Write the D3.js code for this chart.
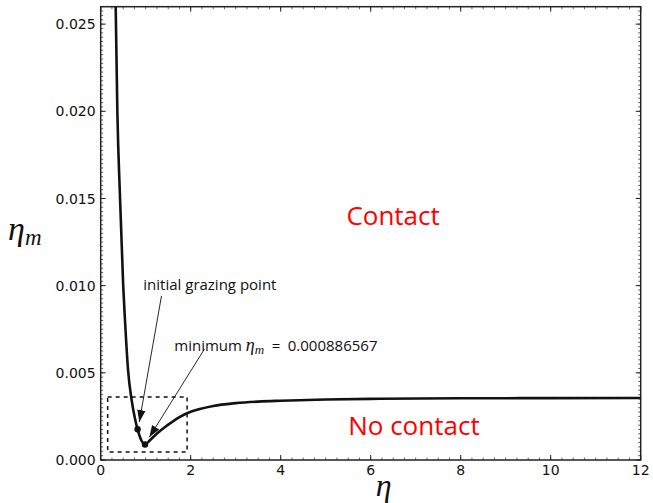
<!DOCTYPE html>
<html>
<head>
<meta charset="utf-8">
<script src="https://cdn.jsdelivr.net/npm/d3@7"></script>
<style>
  body { margin: 0; background: #fff; }
  svg text { fill: #111; }
</style>
</head>
<body>
<div id="chart"></div>
<script>
// curve eta_m(eta)
var etaValues  = [0.333, 0.37, 0.43, 0.50, 0.54, 0.61, 0.69, 0.76, 0.82, 0.90, 0.985, 1.10, 1.25, 1.47, 1.76, 2.0, 2.2, 2.5, 3.0, 3.5, 4.0, 5.0, 6.2, 8.0, 10.0, 12.0];
var etaMValues = [0.0260, 0.0200, 0.0150, 0.0100, 0.0080, 0.0051, 0.0034, 0.0024, 0.00176, 0.00115, 0.000887, 0.00115, 0.00152, 0.00197, 0.00248, 0.00277, 0.00292, 0.00310, 0.00326, 0.00335, 0.00340, 0.00347, 0.00351, 0.00354, 0.00355, 0.00356];

var xTicks = [0, 2, 4, 6, 8, 10, 12];
var yTicks = [0.000, 0.005, 0.010, 0.015, 0.020, 0.025];

var grazingPoint = [0.82, 0.00176];
var minimumPoint = [0.985, 0.000886567];

var width = 653, height = 503;
var margin = {left: 100.7, right: 12.3, top: 6.7, bottom: 43};
var innerW = width - margin.left - margin.right;
var innerH = height - margin.top - margin.bottom;

var x = d3.scaleLinear().domain([0, 12]).range([0, innerW]);
var y = d3.scaleLinear().domain([0, 0.026]).range([innerH, 0]);

var svg = d3.select("#chart").append("svg")
    .attr("width", width)
    .attr("height", height);

var defs = svg.append("defs");
defs.append("marker")
    .attr("id", "head")
    .attr("viewBox", "0 0 10 10")
    .attr("refX", 10).attr("refY", 5)
    .attr("markerWidth", 12).attr("markerHeight", 12)
    .attr("markerUnits", "userSpaceOnUse")
    .attr("orient", "auto")
    .append("path")
    .attr("d", "M0,1.5 L10,5 L0,8.5 Z")
    .attr("fill", "#111");

var g = svg.append("g")
    .attr("transform", "translate(" + margin.left + "," + margin.top + ")");

// minor ticks (inward) on all four sides
var xMinor = d3.range(0, 12.0001, 0.25);
var yMinor = d3.range(0, 0.02601, 0.00025);

g.selectAll(".xminor").data(xMinor).enter().append("g").each(function(d) {
    var s = d3.select(this);
    s.append("line").attr("x1", x(d)).attr("x2", x(d)).attr("y1", innerH).attr("y2", innerH - 2.5);
    s.append("line").attr("x1", x(d)).attr("x2", x(d)).attr("y1", 0).attr("y2", 2.5);
}).selectAll("line").attr("stroke", "#444").attr("stroke-width", 0.8);

g.selectAll(".yminor").data(yMinor).enter().append("g").each(function(d) {
    var s = d3.select(this);
    s.append("line").attr("x1", 0).attr("x2", 2.5).attr("y1", y(d)).attr("y2", y(d));
    s.append("line").attr("x1", innerW).attr("x2", innerW - 2.5).attr("y1", y(d)).attr("y2", y(d));
}).selectAll("line").attr("stroke", "#444").attr("stroke-width", 0.8);

// major ticks
g.selectAll(".xmajor").data(xTicks).enter().append("g").each(function(d) {
    var s = d3.select(this);
    s.append("line").attr("x1", x(d)).attr("x2", x(d)).attr("y1", innerH).attr("y2", innerH - 5);
    s.append("line").attr("x1", x(d)).attr("x2", x(d)).attr("y1", 0).attr("y2", 5);
}).selectAll("line").attr("stroke", "#222").attr("stroke-width", 1);

g.selectAll(".ymajor").data(yTicks).enter().append("g").each(function(d) {
    var s = d3.select(this);
    s.append("line").attr("x1", 0).attr("x2", 5).attr("y1", y(d)).attr("y2", y(d));
    s.append("line").attr("x1", innerW).attr("x2", innerW - 5).attr("y1", y(d)).attr("y2", y(d));
}).selectAll("line").attr("stroke", "#222").attr("stroke-width", 1);

// tick labels
g.selectAll(".xlab").data(xTicks).enter().append("text")
    .attr("x", function(d) { return x(d); })
    .attr("y", innerH + 15)
    .attr("text-anchor", "middle")
    .style("font-family", "DejaVu Sans")
    .style("font-size", "14px")
    .text(function(d) { return d; });

g.selectAll(".ylab").data(yTicks).enter().append("text")
    .attr("x", -5)
    .attr("y", function(d) { return y(d); })
    .attr("dy", "0.36em")
    .attr("text-anchor", "end")
    .style("font-family", "DejaVu Sans")
    .style("font-size", "14px")
    .text(function(d) { return d3.format(".3f")(d); });

// frame
g.append("rect")
    .attr("width", innerW).attr("height", innerH)
    .attr("fill", "none")
    .attr("stroke", "#222")
    .attr("stroke-width", 1.5);

// dashed zoom box
g.append("rect")
    .attr("x", x(0.155)).attr("y", y(0.00362))
    .attr("width", x(1.92) - x(0.155))
    .attr("height", y(0.00046) - y(0.00362))
    .attr("fill", "none")
    .attr("stroke", "#111")
    .attr("stroke-width", 1.5)
    .attr("stroke-dasharray", "4,4");

// clip for curve
defs.append("clipPath").attr("id", "clip")
    .append("rect").attr("width", innerW).attr("height", innerH);

var curveData = etaValues.map(function(e, i) { return [e, etaMValues[i]]; });

g.append("path")
    .datum(curveData)
    .attr("clip-path", "url(#clip)")
    .attr("fill", "none")
    .attr("stroke", "#111")
    .attr("stroke-width", 2.6)
    .attr("d", d3.line()
        .x(function(d) { return x(d[0]); })
        .y(function(d) { return y(d[1]); })
        .curve(d3.curveMonotoneX));

// marked points
g.selectAll(".pt").data([grazingPoint, minimumPoint]).enter().append("circle")
    .attr("cx", function(d) { return x(d[0]); })
    .attr("cy", function(d) { return y(d[1]); })
    .attr("r", 3.2)
    .attr("fill", "#111");

// annotations
var arrows = [
    {from: [1.351, 0.00941], to: [0.858, 0.00218]},
    {from: [2.307, 0.00637], to: [1.08, 0.0013]}
];
g.selectAll(".arrow").data(arrows).enter().append("line")
    .attr("x1", function(d) { return x(d.from[0]); })
    .attr("y1", function(d) { return y(d.from[1]); })
    .attr("x2", function(d) { return x(d.to[0]); })
    .attr("y2", function(d) { return y(d.to[1]); })
    .attr("stroke", "#111")
    .attr("stroke-width", 0.9)
    .attr("marker-end", "url(#head)");

g.append("text")
    .attr("x", x(0.947)).attr("y", y(0.00973))
    .style("font-family", "Open Sans")
    .style("font-size", "15px")
    .text("initial grazing point");

var minText = g.append("text")
    .attr("x", x(1.636)).attr("y", y(0.00623))
    .style("font-family", "Open Sans")
    .style("font-size", "15px");
minText.append("tspan").text("minimum ");
minText.append("tspan").style("font-family", "Liberation Serif").style("font-style", "italic").style("font-size", "18px").text("η");
minText.append("tspan").attr("dy", 3).style("font-family", "Liberation Serif").style("font-style", "italic").style("font-size", "13px").text("m");
minText.append("tspan").attr("dy", -3).text("\u2002=\u20020.000886567");

// region labels
g.append("text")
    .attr("x", x(5.46)).attr("y", y(0.0135))
    .style("font-family", "Open Sans")
    .style("font-size", "26px")
    .style("fill", "red")
    .text("Contact");

g.append("text")
    .attr("x", x(5.5)).attr("y", y(0.00144))
    .style("font-family", "Open Sans")
    .style("font-size", "26px")
    .style("fill", "red")
    .text("No contact");

// axis titles
var yTitle = svg.append("text")
    .attr("x", 8).attr("y", 240)
    .style("font-family", "Liberation Serif")
    .style("font-style", "italic")
    .style("font-size", "34px");
yTitle.append("tspan").text("η");
yTitle.append("tspan").attr("dy", 5).style("font-size", "23px").text("m");

// x title sits just right of the "6" label so the two boxes do not collide
svg.append("text")
    .attr("x", 375.8).attr("y", 496)
    .attr("text-anchor", "start")
    .style("font-family", "Liberation Serif")
    .style("font-style", "italic")
    .style("font-size", "32px")
    .text("η");
</script>
</body>
</html>
